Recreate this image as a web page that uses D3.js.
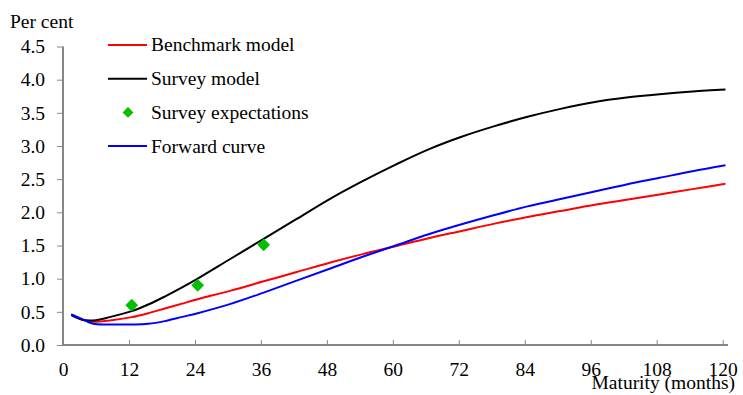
<!DOCTYPE html>
<html>
<head>
<meta charset="utf-8">
<script src="https://cdn.jsdelivr.net/npm/d3@7"></script>
<style>
  html, body { margin: 0; padding: 0; background: #fff; }
  svg { display: block; }
  text { font-family: "Liberation Serif", "Times New Roman", serif; fill: #000; }
</style>
</head>
<body>
<svg id="chart" width="743" height="395"></svg>
<script>
// ---- data ----
const months = [1, 3, 5, 8, 12, 15, 18, 21, 24, 30, 36, 42, 48, 54, 60, 66, 72, 78, 84, 90, 96, 102, 108, 114, 120];
const benchmarkModel = [0.46, 0.38, 0.35, 0.37, 0.42, 0.48, 0.55, 0.62, 0.69, 0.82, 0.96, 1.10, 1.24, 1.37, 1.49, 1.61, 1.72, 1.83, 1.93, 2.02, 2.11, 2.19, 2.27, 2.35, 2.43];
const surveyModel    = [0.45, 0.38, 0.37, 0.42, 0.51, 0.61, 0.73, 0.86, 1.00, 1.30, 1.60, 1.90, 2.20, 2.47, 2.72, 2.95, 3.14, 3.30, 3.44, 3.56, 3.66, 3.73, 3.78, 3.82, 3.85];
const forwardCurve   = [0.46, 0.39, 0.32, 0.31, 0.31, 0.32, 0.36, 0.42, 0.48, 0.62, 0.79, 0.97, 1.15, 1.33, 1.50, 1.67, 1.82, 1.96, 2.09, 2.20, 2.31, 2.42, 2.52, 2.62, 2.71];
const surveyMonths = [12, 24, 36];
const surveyExpectations = [0.60, 0.90, 1.51];
const xTicks = [0, 12, 24, 36, 48, 60, 72, 84, 96, 108, 120];
const yTicks = [0.0, 0.5, 1.0, 1.5, 2.0, 2.5, 3.0, 3.5, 4.0, 4.5];
const seriesNames = ["Benchmark model", "Survey model", "Survey expectations", "Forward curve"];
const catOffset = 0.5; // category-centred plotting

const svg = d3.select("#chart");
const x = d3.scaleLinear().domain([0, 120]).range([63, 722.7]);
const y = d3.scaleLinear().domain([0, 4.5]).range([345, 46.5]);
const axisColor = "#868686";
const fontSize = "19.5px";

// y axis
const yAxis = svg.append("g").attr("transform", "translate(63,0)")
  .call(d3.axisLeft(y).tickValues(yTicks).tickFormat(d3.format(".1f")).tickSize(6).tickPadding(12));
yAxis.select(".domain").attr("d", `M0,${y(4.5)}V${y(0)}`);
// x axis
const xAxis = svg.append("g").attr("transform", "translate(0,345)")
  .call(d3.axisTop(x).tickValues(xTicks).tickFormat(d3.format("d")).tickSize(5));
xAxis.select(".domain").attr("d", `M${x(0)},0H728`);

[yAxis, xAxis].forEach(g => {
  g.select(".domain").attr("stroke", axisColor).attr("stroke-width", 2);
  g.selectAll(".tick line").attr("stroke", axisColor).attr("stroke-width", 1);
  g.selectAll(".tick text").style("font-family", '"Liberation Serif", serif').style("font-size", fontSize).attr("fill", "#000");
});
xAxis.selectAll(".tick text").attr("y", 30.5).attr("dy", 0);

svg.append("text").attr("x", 10).attr("y", 28).style("font-size", fontSize).text("Per cent");
svg.append("text").attr("x", 735).attr("y", 388.5).attr("text-anchor", "end").style("font-size", fontSize).text("Maturity (months)");

// lines
const line = d3.line().x(d => x(d[0] + catOffset)).y(d => y(d[1])).curve(d3.curveCatmullRom.alpha(0.5));
const lineSeries = [
  { vals: benchmarkModel, color: "#ff0000" },
  { vals: surveyModel, color: "#000000" },
  { vals: forwardCurve, color: "#0000ff" }
];
lineSeries.forEach(s => {
  svg.append("path")
    .datum(months.map((m, i) => [m, s.vals[i]]))
    .attr("d", line).attr("fill", "none").attr("stroke", s.color).attr("stroke-width", 2);
});

// survey points
const diamond = d3.symbol().type(d3.symbolDiamond2).size(105);
svg.selectAll(".pt").data(surveyMonths.map((m, i) => [m, surveyExpectations[i]]))
  .enter().append("path")
  .attr("transform", d => `translate(${x(d[0] + catOffset)},${y(d[1])})`)
  .attr("d", diamond).attr("fill", "#00c000");

// legend
const legendColors = ["#ff0000", "#000000", "#00c000", "#0000ff"];
const legend = svg.append("g");
seriesNames.forEach((name, i) => {
  const ly = 45 + i * 33.7;
  if (i === 2) {
    legend.append("path").attr("transform", `translate(128,${ly})`)
      .attr("d", d3.symbol().type(d3.symbolDiamond2).size(75)).attr("fill", legendColors[i]);
  } else {
    legend.append("line").attr("x1", 108).attr("x2", 147).attr("y1", ly).attr("y2", ly)
      .attr("stroke", legendColors[i]).attr("stroke-width", 2);
  }
  legend.append("text").attr("x", 151).attr("y", ly).attr("dy", "0.33em").style("font-size", fontSize).text(name);
});
</script>
</body>
</html>
